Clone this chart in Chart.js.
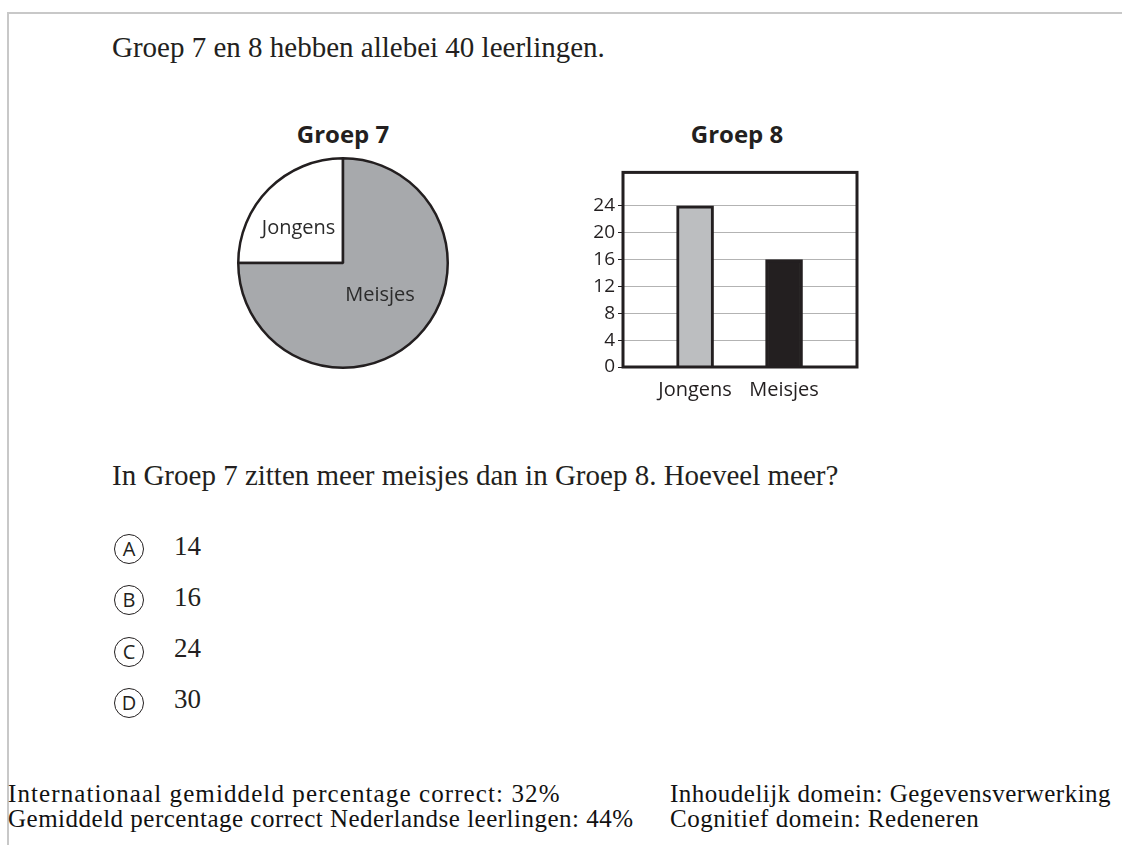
<!DOCTYPE html>
<html>
<head>
<meta charset="utf-8">
<script src="https://cdn.jsdelivr.net/npm/chart.js@4.4.1/dist/chart.umd.min.js"></script>
<style>
  body { margin: 0; width: 1122px; height: 845px; background: #fff; position: relative; overflow: hidden;
         font-family: "Liberation Serif", serif; color: #231f20; }
  .frame { position: absolute; left: 7px; top: 12px; width: 1200px; height: 900px;
           border-left: 2px solid #c8c8c8; border-top: 2px solid #c8c8c8; }
  .t { position: absolute; white-space: nowrap; line-height: 1; }
  .q { font-size: 29px; }
  .title { font-family: "Open Sans", sans-serif; font-weight: bold; font-size: 24px; transform: translateX(-50%); }
  .opt { position: absolute; left: 114px; width: 28px; height: 28px; border: 1.3px solid #231f20; border-radius: 50%;
         font-family: "Open Sans", sans-serif; font-size: 20px; line-height: 28px; text-align: center; }
  .num { font-size: 27px; }
  .foot { font-size: 25px; color: #111; letter-spacing: 0.5px; }
  .box { position: absolute; }
</style>
</head>
<body>
<div class="frame"></div>

<div class="t q" style="left:112px; top:33px;">Groep 7 en 8 hebben allebei 40 leerlingen.</div>

<div class="t title" style="left:343px; top:122px;">Groep 7</div>
<div class="t title" style="left:737px; top:122px;">Groep 8</div>

<div class="box" style="left:237px; top:157px; width:212px; height:212px;"><canvas id="pieChart"></canvas></div>
<div class="box" style="left:580px; top:158px; width:290px; height:250px;"><canvas id="barChart"></canvas></div>

<div class="t q" style="left:112px; top:461px;">In Groep 7 zitten meer meisjes dan in Groep 8. Hoeveel meer?</div>

<div id="options"></div>

<div class="t foot" style="left:8px; top:781px; letter-spacing:1.1px;">Internationaal gemiddeld percentage correct: 32%</div>
<div class="t foot" style="left:8px; top:806px;">Gemiddeld percentage correct Nederlandse leerlingen: 44%</div>
<div class="t foot" style="left:670px; top:781px;">Inhoudelijk domein: Gegevensverwerking</div>
<div class="t foot" style="left:670px; top:806px;">Cognitief domein: Redeneren</div>

<script>
// Groep 7 (pie, 40 leerlingen)
var pieLabels = ['Jongens', 'Meisjes'];
var pieValues = [10, 30];
var pieColors = ['#ffffff', '#a7a9ac'];

// Groep 8 (bars)
var categories = ['Jongens', 'Meisjes'];
var barValues = [24, 16];
var barColors = ['#bcbec0', '#231f20'];
var yTicks = [0, 4, 8, 12, 16, 20, 24];

// answer choices
var letters = ['A', 'B', 'C', 'D'];
var answers = [14, 16, 24, 30];

var ink = '#231f20';
var sans = '"Open Sans", sans-serif';

// answer list
var optBox = document.getElementById('options');
letters.forEach(function (l, i) {
  var top = 534 + i * 51.3;
  var c = document.createElement('div');
  c.className = 'opt';
  c.style.top = top + 'px';
  c.textContent = l;
  optBox.appendChild(c);
  var n = document.createElement('div');
  n.className = 't num';
  n.style.left = '174px';
  n.style.top = (top - 1.5) + 'px';
  n.textContent = answers[i];
  optBox.appendChild(n);
});

// labels inside the pie slices
var sliceLabels = {
  id: 'sliceLabels',
  afterDatasetsDraw: function (chart, args, opts) {
    var ctx = chart.ctx;
    var meta = chart.getDatasetMeta(0);
    ctx.save();
    ctx.font = '20px ' + sans;
    ctx.fillStyle = '#2b2b2b';
    ctx.textAlign = 'center';
    ctx.textBaseline = 'middle';
    meta.data.forEach(function (arc, i) {
      var p = arc.getProps(['x', 'y', 'startAngle', 'endAngle', 'outerRadius'], true);
      var mid = (p.startAngle + p.endAngle) / 2;
      var f = opts.factors[i];
      ctx.fillText(pieLabels[i], p.x + Math.cos(mid) * p.outerRadius * f[0],
                   p.y + Math.sin(mid) * p.outerRadius * f[1]);
    });
    ctx.restore();
  }
};

new Chart(document.getElementById('pieChart'), {
  type: 'pie',
  data: {
    labels: pieLabels,
    datasets: [{
      data: pieValues,
      backgroundColor: pieColors,
      borderColor: ink,
      borderWidth: 2.5
    }]
  },
  options: {
    responsive: true,
    maintainAspectRatio: false,
    animation: false,
    rotation: -90,
    layout: { padding: 0 },
    plugins: {
      legend: { display: false },
      tooltip: { enabled: false },
      sliceLabels: { factors: [[0.6, 0.47], [0.5, 0.44]] }
    }
  },
  plugins: [sliceLabels]
});

// black frame round the plot area
var plotFrame = {
  id: 'plotFrame',
  afterDatasetsDraw: function (chart) {
    var a = chart.chartArea;
    var ctx = chart.ctx;
    ctx.save();
    ctx.strokeStyle = ink;
    ctx.lineWidth = 3;
    ctx.strokeRect(a.left, a.top, a.right - a.left, a.bottom - a.top);
    ctx.restore();
  }
};

new Chart(document.getElementById('barChart'), {
  type: 'bar',
  data: {
    datasets: [{
      data: categories.map(function (c, i) { return { x: i + 1, y: barValues[i] }; }),
      backgroundColor: barColors,
      borderColor: ink,
      borderWidth: 3,
      barThickness: 37
    }]
  },
  options: {
    responsive: true,
    maintainAspectRatio: false,
    animation: false,
    layout: { padding: { top: 10, right: 13, left: 0, bottom: 0 } },
    plugins: { legend: { display: false }, tooltip: { enabled: false } },
    scales: {
      x: {
        type: 'linear',
        offset: false,
        min: 0.19,
        max: 2.82,
        afterBuildTicks: function (s) { s.ticks = categories.map(function (c, i) { return { value: i + 1 }; }); },
        afterFit: function (s) { s.height = 41; },
        grid: { display: false },
        border: { display: false },
        ticks: {
          color: ink,
          font: { family: sans, size: 20 },
          padding: 3,
          maxRotation: 0,
          callback: function (v) { return categories[v - 1]; }
        }
      },
      y: {
        min: 0,
        max: 29,
        afterBuildTicks: function (s) { s.ticks = yTicks.map(function (v) { return { value: v }; }); },
        afterFit: function (s) { s.width = 43; },
        grid: { color: '#b3b3b3', lineWidth: 1, tickLength: 5, tickColor: ink },
        border: { display: false },
        ticks: { color: ink, font: { family: sans, size: 19 }, padding: 3 }
      }
    }
  },
  plugins: [plotFrame]
});
</script>
</body>
</html>
